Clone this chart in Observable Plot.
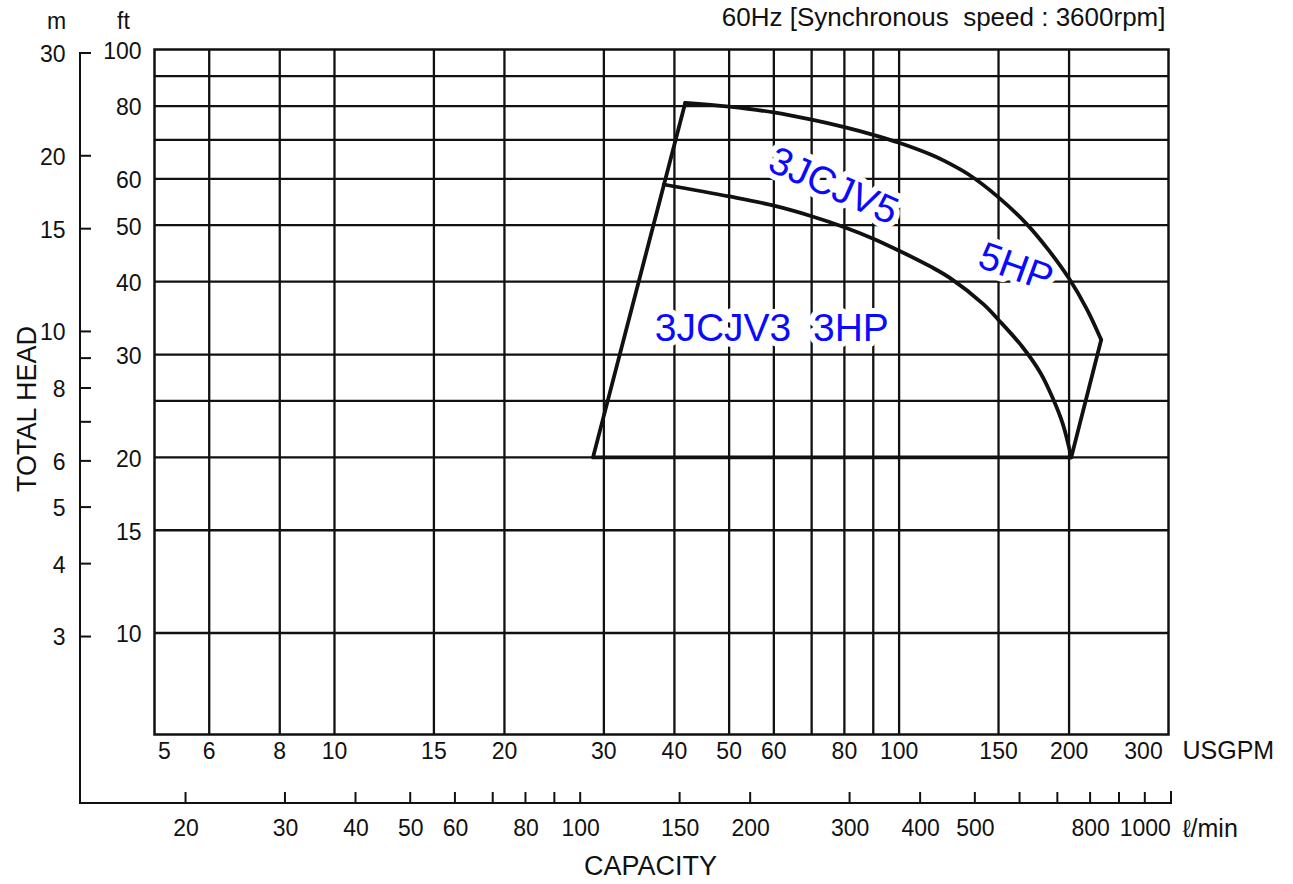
<!DOCTYPE html>
<html>
<head>
<meta charset="utf-8">
<script src="https://cdn.jsdelivr.net/npm/d3@7"></script>
<script src="https://cdn.jsdelivr.net/npm/@observablehq/plot@0.6"></script>
<style>
  html, body { margin: 0; padding: 0; background: #fff; }
  svg { display: block; }
</style>
</head>
<body>
<div id="chart"></div>
<script>
// ---------- data ----------
// capacity axis (US gallons per minute), log scale
const gpmGrid = [6, 8, 10, 15, 20, 30, 40, 50, 60, 70, 80, 90, 100, 150, 200];
const gpmLabels = [5, 6, 8, 10, 15, 20, 30, 40, 50, 60, 80, 100, 150, 200];
const gpmEndLabel = [300];
// secondary capacity axis (litres per minute)
const lpmTicks = [20, 30, 40, 50, 60, 70, 80, 90, 100, 150, 200, 300, 400, 500, 600, 700, 800, 900, 1000];
const lpmLabels = [20, 30, 40, 50, 60, 80, 100, 150, 200, 300, 400, 500, 800, 1000];
// head axis (feet), log scale
const ftGrid = [10, 15, 20, 25, 30, 40, 50, 60, 70, 80, 90];
const ftLabels = [10, 15, 20, 30, 40, 50, 60, 80, 100];
// secondary head axis (metres)
const mTicks = [3, 4, 5, 6, 7, 8, 9, 10, 15, 20, 30];
const mLabels = [3, 4, 5, 6, 8, 10, 15, 20, 30];
const FT_PER_M = 3.28084;
const LPM_PER_GPM = 3.78541;

// performance curves: [USGPM, ft]
const curve3JCJV5 = [
  [41.8, 81.0], [50, 79.8], [60, 78.0], [70, 75.8], [80, 73.6], [90, 71.4],
  [100, 69.2], [114, 66.0], [120, 64.5], [133, 61.0], [150, 55.8], [168, 50.3],
  [184, 45.3], [200, 40.5], [215, 35.9], [228, 31.8]
];
const curve3JCJV3 = [
  [38.3, 58.7], [50, 56.0], [60, 54.0], [70, 51.8], [80, 49.6], [90, 47.4],
  [100, 45.2], [114, 42.4], [123, 40.6], [141, 36.6], [150, 34.4], [165, 31.0],
  [178, 27.9], [187, 25.3], [195, 22.8], [201.8, 20.0]
];
const edgeLeft = [[28.7, 20.0], [41.8, 81.0]];
const edgeRight = [[228, 31.8], [201.8, 20.0]];
const edgeBottom = [[28.7, 20.0], [201.8, 20.0]];

const curveLabels = [
  {text: "3JCJV5", gpm: 76.5, ft: 58.3, angle: 24},
  {text: "5HP", gpm: 161, ft: 42.3, angle: 20},
  {text: "3JCJV3  3HP", gpm: 59.5, ft: 33.3, angle: 0}
];

// ---------- chart ----------
const FONT = "'Liberation Sans', Arial, Helvetica, sans-serif";
const INK = "#111";
const LPM_SHIFT = 8;
const LPM_LINE = 69;   // distance of the l/min axis below the frame

// secondary axes (metres on the left, l/min at the bottom), drawn through the plot's scales
function secondaryAxes(index, scales, values, dims) {
  const {x, y} = scales;
  const axisXpx = 80;
  const lpmLinePx = dims.height - dims.marginBottom + LPM_LINE;
  const right = dims.width - dims.marginRight;
  const g = d3.create("svg:g")
    .attr("fill", "none")
    .attr("stroke", INK)
    .attr("stroke-width", 2)
    .attr("stroke-linecap", "square");
  const topPx = y(30 * FT_PER_M);
  g.append("path").attr("d", `M${axisXpx},${topPx}V${lpmLinePx}H${right + 3}`);
  for (const m of mTicks) {
    const py = y(m * FT_PER_M);
    g.append("line").attr("x1", axisXpx).attr("x2", axisXpx + 10).attr("y1", py).attr("y2", py);
  }
  for (const l of lpmTicks) {
    const px = x(l / LPM_PER_GPM) + LPM_SHIFT;
    g.append("line").attr("x1", px).attr("x2", px).attr("y1", lpmLinePx).attr("y2", lpmLinePx - 10);
  }
  g.append("line").attr("x1", right + 3).attr("x2", right + 3).attr("y1", lpmLinePx).attr("y2", lpmLinePx - 11);
  return g.node();
}

const num = d => String(d);

const chart = Plot.plot({
  width: 1293,
  height: 884,
  marginLeft: 154,
  marginRight: 125,
  marginTop: 49,
  marginBottom: 150,
  style: {fontFamily: FONT, background: "#fff", color: INK},
  x: {type: "log", domain: [4.8, 300], axis: null},
  y: {type: "log", domain: [6.7, 100], axis: null},
  marks: [
    // grid
    Plot.ruleX(gpmGrid, {x: d => d, stroke: INK, strokeWidth: 2.3}),
    Plot.ruleY(ftGrid, {y: d => d, stroke: INK, strokeWidth: 2.3}),
    Plot.frame({stroke: INK, strokeWidth: 2.5}),

    // curve labels with white knock-out behind them
    Plot.text(curveLabels, {
      x: "gpm", y: "ft", text: "text", rotate: "angle",
      fill: "#0a0aff", stroke: "white", strokeWidth: 12,
      fontSize: 39, textAnchor: "middle", lineAnchor: "middle"
    }),

    // envelope and curves
    Plot.line(edgeLeft, {x: d => d[0], y: d => d[1], stroke: INK, strokeWidth: 3.8}),
    Plot.line(edgeRight, {x: d => d[0], y: d => d[1], stroke: INK, strokeWidth: 3.8}),
    Plot.line(edgeBottom, {x: d => d[0], y: d => d[1], stroke: INK, strokeWidth: 3.8}),
    Plot.line(curve3JCJV5, {x: d => d[0], y: d => d[1], stroke: INK, strokeWidth: 3.8, curve: "catmull-rom"}),
    Plot.line(curve3JCJV3, {x: d => d[0], y: d => d[1], stroke: INK, strokeWidth: 3.8, curve: "catmull-rom"}),

    // USGPM tick labels
    Plot.text(gpmLabels, {x: d => d, text: num, frameAnchor: "bottom", lineAnchor: "middle", dy: 17, fontSize: 23, fill: INK}),
    Plot.text(gpmEndLabel, {x: d => d, text: num, frameAnchor: "bottom", lineAnchor: "middle", dy: 17, dx: -25, fontSize: 23, fill: INK}),
    Plot.text(["USGPM"], {frameAnchor: "bottom-right", lineAnchor: "middle", dx: 14, dy: 16, textAnchor: "start", fontSize: 25, fill: INK}),

    // l/min tick labels
    Plot.text(lpmLabels, {x: d => d / LPM_PER_GPM, text: num, frameAnchor: "bottom", lineAnchor: "middle", dy: LPM_LINE + 25, dx: LPM_SHIFT, fontSize: 23, fill: INK}),
    Plot.text(["\u2113/min"], {frameAnchor: "bottom-right", lineAnchor: "middle", dx: 14, dy: LPM_LINE + 25, textAnchor: "start", fontSize: 25, fill: INK}),
    Plot.text(["CAPACITY"], {frameAnchor: "bottom", lineAnchor: "middle", textAnchor: "middle", dx: -11, dy: 132, fontSize: 27, fill: INK}),

    // ft tick labels
    Plot.text(ftLabels, {y: d => d, text: num, frameAnchor: "left", lineAnchor: "middle", dx: -13, dy: 2, textAnchor: "end", fontSize: 23, fill: INK}),
    Plot.text(["ft"], {frameAnchor: "top-left", lineAnchor: "middle", textAnchor: "middle", dx: -31, dy: -28, fontSize: 23, fill: INK}),

    // metre tick labels
    Plot.text(mLabels, {y: d => d * FT_PER_M, text: num, frameAnchor: "left", lineAnchor: "middle", dx: -89, dy: 1, textAnchor: "end", fontSize: 23, fill: INK}),
    Plot.text(["m"], {frameAnchor: "top-left", lineAnchor: "middle", textAnchor: "middle", dx: -98, dy: -28, fontSize: 23, fill: INK}),
    Plot.text(["TOTAL HEAD"], {frameAnchor: "left", lineAnchor: "middle", textAnchor: "middle", dx: -127, dy: 17, rotate: -90, fontSize: 27, fill: INK}),

    // heading
    Plot.text(["60Hz [Synchronous  speed : 3600rpm]"], {frameAnchor: "top-right", lineAnchor: "middle", textAnchor: "end", dx: -3, dy: -32, fontSize: 26, fill: INK}),

    secondaryAxes
  ]
});

document.getElementById("chart").appendChild(chart);
</script>
</body>
</html>
